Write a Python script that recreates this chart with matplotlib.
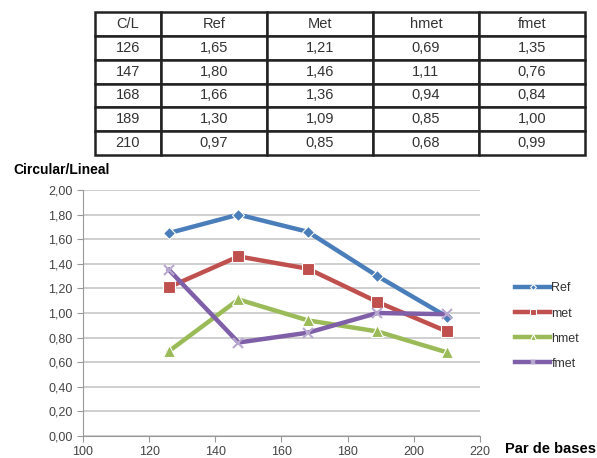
import matplotlib
matplotlib.use("Agg")
import matplotlib.pyplot as plt
from matplotlib.ticker import FuncFormatter, MultipleLocator

# --- data ---
pares = [126, 147, 168, 189, 210]
ref = [1.65, 1.80, 1.66, 1.30, 0.97]
met = [1.21, 1.46, 1.36, 1.09, 0.85]
hmet = [0.69, 1.11, 0.94, 0.85, 0.68]
fmet = [1.35, 0.76, 0.84, 1.00, 0.99]
col_labels = ["C/L", "Ref", "Met", "hmet", "fmet"]

series = [
    ("Ref", ref, "#4A7EBB", "D", 6),
    ("met", met, "#C0504D", "s", 8),
    ("hmet", hmet, "#9BBB59", "^", 8),
    ("fmet", fmet, "#7F5FA8", "x", 7),
]

def coma(v, pos=None):
    return f"{v:.2f}".replace(".", ",")

plt.rcParams["font.family"] = ["Liberation Sans", "DejaVu Sans"]

fig = plt.figure(figsize=(5.97, 4.58), dpi=100)
W, H = 597, 458

# --- table ---
tax = fig.add_axes([95 / W, 1 - 155 / H, 490 / W, 143 / H])
tax.axis("off")
cells = [[str(p), coma(a), coma(b), coma(c), coma(d)]
         for p, a, b, c, d in zip(pares, ref, met, hmet, fmet)]
tbl = tax.table(cellText=cells, colLabels=col_labels, loc="center",
                cellLoc="center", bbox=[0, 0, 1, 1],
                colWidths=[67, 108, 108, 108, 108])
tbl.auto_set_font_size(False)
tbl.set_fontsize(10.5)
for (r, c), cell in tbl.get_celld().items():
    cell.set_linewidth(1.8)
    cell.set_edgecolor("#222222")
    cell.get_text().set_color("#333333")

# --- chart ---
ax = fig.add_axes([83 / W, 1 - 436 / H, 397 / W, 246 / H])
for name, vals, color, mk, ms in series:
    ax.plot(pares, vals, color=color, lw=3.2, marker=mk, ms=ms,
            mew=1.5 if mk == "x" else 0.8, mec="#B8A8D0" if mk == "x" else "white",
            mfc=color, label=name, zorder=3)

ax.set_xlim(100, 220)
ax.set_ylim(0, 2.0)
ax.xaxis.set_major_locator(MultipleLocator(20))
ax.yaxis.set_major_locator(MultipleLocator(0.2))
ax.yaxis.set_major_formatter(FuncFormatter(coma))
ax.grid(axis="y", color="#CCCCCC", lw=1.3)
ax.set_axisbelow(True)
for s in ["top", "right"]:
    ax.spines[s].set_visible(False)
for s in ["left", "bottom"]:
    ax.spines[s].set_color("#999999")
ax.tick_params(colors="#999999", labelcolor="#444444", labelsize=9, length=4)

ax.legend(loc="upper left", bbox_to_anchor=(1.06, 0.67), frameon=False,
          fontsize=9, handlelength=2.8, handletextpad=0.1, labelspacing=1.05,
          labelcolor="#333333", markerscale=0.5)

fig.text(13 / W, 1 - 170 / H, "Circular/Lineal", fontsize=10, fontweight="bold",
         va="center", ha="left")
fig.text(505 / W, 1 - 449 / H, "Par de bases", fontsize=10.5, fontweight="bold",
         va="center", ha="left")

fig.savefig("out.png", dpi=100)
